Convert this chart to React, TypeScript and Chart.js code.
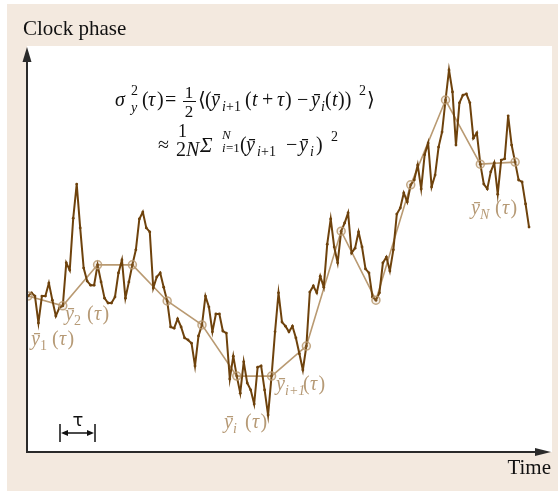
import { useEffect, useRef } from "react";
import { Chart, registerables } from "chart.js";

Chart.register(...registerables);

// Clock phase sampled at every time step (arbitrary units)
const phase = [
  38.4, 39.2, 38.4, 31.8, 38.4, 38.4, 41.6, 37.4, 33.5, 35.5,
  36.0, 46.6, 44.8, 57.6, 66.0, 55.2, 45.3, 42.1, 41.1, 41.1,
  46.1, 41.9, 37.9, 36.7, 36.7, 38.2, 44.1, 47.3, 37.9, 41.9,
  46.1, 49.8, 57.4, 59.1, 55.2, 54.2, 40.4, 43.1, 44.1, 40.6,
  37.2, 30.8, 30.5, 32.8, 30.8, 28.1, 27.6, 26.8, 21.2, 28.6,
  31.3, 38.4, 35.7, 29.6, 34.0, 34.0, 29.8, 29.3, 18.0, 23.6,
  18.7, 14.5, 22.2, 17.0, 15.3, 11.8, 20.9, 21.2, 15.3, 9.1,
  18.7, 29.6, 39.2, 32.0, 31.0, 29.6, 31.0, 28.1, 24.2, 20.2,
  26.1, 39.4, 40.9, 39.2, 43.3, 40.6, 51.2, 57.4, 50.5, 46.6,
  54.4, 56.4, 58.9, 49.0, 50.2, 54.2, 50.5, 45.1, 44.1, 38.2,
  37.4, 39.2, 46.6, 48.0, 44.6, 49.8, 58.6, 60.1, 63.8, 61.6,
  65.8, 67.0, 70.7, 64.8, 73.2, 76.1, 65.3, 68.2, 75.1, 78.8,
  86.7, 94.1, 88.7, 75.6, 86.0, 87.9, 88.2, 86.0, 77.3, 78.6,
  70.9, 66.0, 64.8, 69.0, 71.2, 63.5, 71.9, 72.2, 82.8, 75.6,
  71.4, 67.0, 66.5, 61.1, 55.4,
];

// Phase at the start of each averaging interval tau
const blockStart = [0, 10, 20, 30, 40, 50, 60, 70, 80, 90, 100, 110, 120, 130, 140];
const blockPhase = [38.4, 36.0, 46.1, 46.1, 37.2, 31.3, 18.7, 18.7, 26.1, 54.4, 37.4, 65.8, 86.7, 70.9, 71.4];

const BEIGE = "#f3e9df";
const DARK = "#6e420c";
const TAN = "#b99a72";
const LABEL = "#b69a76";
const AXIS = "#2a2a2a";
const SERIF = '"Liberation Serif", "Times New Roman", "DejaVu Serif", serif';

const font = (size: number, italic = false) =>
  `${italic ? "italic " : ""}${size}px ${SERIF}`;

// text, x, baseline y, size, italic
type Piece = [string, number, number, number, boolean?];

function drawPieces(ctx: CanvasRenderingContext2D, pieces: Piece[], color: string) {
  ctx.fillStyle = color;
  ctx.textAlign = "left";
  ctx.textBaseline = "alphabetic";
  for (const [t, x, y, s, it] of pieces) {
    ctx.font = font(s, !!it);
    ctx.fillText(t, x, y);
  }
}

function label(x: number, y: number, sub: string, subItalic: boolean, parenX: number): Piece[] {
  return [
    ["ȳ", x, y, 20, true],
    [sub, x + 9, y + 5, 14, subItalic],
    ["(", parenX, y, 20],
    ["τ", parenX + 7, y, 20, true],
    [")", parenX + 15.5, y, 20],
  ];
}

const formula: Piece[] = [
  // first line
  ["σ", 115, 106, 20, true],
  ["2", 131, 95, 14],
  ["y", 131, 112, 14, true],
  ["(", 142, 106, 20],
  ["τ", 148, 106, 20, true],
  [")", 157, 106, 20],
  ["=", 165, 106, 20],
  ["⟨", 198, 106, 20],
  ["(", 205, 106, 20],
  ["ȳ", 211, 106, 20, true],
  ["i", 222, 111, 14, true],
  ["+1", 226, 111, 14],
  ["(", 245, 106, 20],
  ["t", 252, 106, 20, true],
  ["+", 262, 106, 20],
  ["τ", 277, 106, 20, true],
  [")", 285, 106, 20],
  ["−", 297, 106, 20],
  ["ȳ", 311, 106, 20, true],
  ["i", 321, 111, 14, true],
  ["(", 325, 106, 20],
  ["t", 332, 106, 20, true],
  ["))", 338, 106, 20],
  ["2", 359, 95, 14],
  ["⟩", 367, 106, 20],
  // second line
  ["≈", 158, 151, 20],
  ["1", 178, 137, 18],
  ["2", 176, 156, 20],
  ["N", 186, 156, 20, true],
  ["Σ", 200, 152, 21, true],
  ["N", 222, 139, 13, true],
  ["i", 222, 152, 13, true],
  ["=1", 226, 152, 13],
  ["(", 240, 151, 20],
  ["ȳ", 246, 151, 20, true],
  ["i", 257, 156, 14, true],
  ["+1", 261, 156, 14],
  ["−", 286, 151, 20],
  ["ȳ", 299, 151, 20, true],
  ["i", 310, 156, 14, true],
  [")", 316, 151, 20],
  ["2", 331, 141, 14],
];

const labels: Piece[] = [
  ...label(31, 345, "1", false, 52),
  ...label(65, 320, "2", false, 87),
  ...label(224, 428, "i", true, 245),
  ...label(276, 390, "i+1", true, 303),
  ...label(471, 214, "N", true, 495),
];

function arrowHead(ctx: CanvasRenderingContext2D, tipX: number, tipY: number, dx: number, dy: number, len: number, half: number) {
  // dx, dy: unit direction toward the tip
  const bx = tipX - dx * len;
  const by = tipY - dy * len;
  ctx.beginPath();
  ctx.moveTo(tipX, tipY);
  ctx.lineTo(bx - dy * half, by + dx * half);
  ctx.lineTo(bx + dy * half, by - dx * half);
  ctx.closePath();
  ctx.fill();
}

const decor = {
  id: "decor",
  beforeDraw(chart: Chart) {
    const { ctx, chartArea: a } = chart;
    ctx.save();
    ctx.fillStyle = "#ffffff";
    ctx.fillRect(0, 0, chart.width, chart.height);
    ctx.fillStyle = BEIGE;
    ctx.fillRect(7, 4, chart.width - 7, chart.height - 4);
    ctx.fillStyle = "#ffffff";
    ctx.fillRect(a.left, a.top, a.right - a.left, a.bottom - a.top);
    ctx.restore();
  },
  afterDraw(chart: Chart) {
    const { ctx, chartArea: a } = chart;
    ctx.save();
    // axes with arrowheads
    ctx.strokeStyle = AXIS;
    ctx.fillStyle = AXIS;
    ctx.lineWidth = 2;
    ctx.beginPath();
    ctx.moveTo(a.left, a.bottom);
    ctx.lineTo(a.left, a.top + 10);
    ctx.moveTo(a.left - 1, a.bottom);
    ctx.lineTo(a.right - 12, a.bottom);
    ctx.stroke();
    arrowHead(ctx, a.left, a.top + 1, 0, -1, 15, 4.5);
    arrowHead(ctx, a.right - 1, a.bottom, 1, 0, 16, 4);

    // axis titles
    ctx.fillStyle = "#111";
    ctx.font = font(21);
    ctx.textAlign = "left";
    ctx.textBaseline = "alphabetic";
    ctx.fillText("Clock phase", 23, 35);
    ctx.textAlign = "right";
    ctx.fillText("Time", 551, 474);

    // tau interval marker
    ctx.strokeStyle = "#111";
    ctx.fillStyle = "#111";
    ctx.lineWidth = 1.5;
    ctx.beginPath();
    ctx.moveTo(60, 424);
    ctx.lineTo(60, 442);
    ctx.moveTo(95, 424);
    ctx.lineTo(95, 442);
    ctx.moveTo(64, 433);
    ctx.lineTo(91, 433);
    ctx.stroke();
    arrowHead(ctx, 61, 433, -1, 0, 7, 3);
    arrowHead(ctx, 94, 433, 1, 0, 7, 3);
    ctx.font = '18px "DejaVu Sans", sans-serif';
    ctx.textAlign = "center";
    ctx.fillText("τ", 78, 426);

    drawPieces(ctx, formula, "#111");
    // fraction 1/2
    ctx.font = font(17);
    ctx.textAlign = "center";
    ctx.fillText("1", 189, 98);
    ctx.fillText("2", 189, 117);
    ctx.fillRect(183, 101, 13, 1);

    drawPieces(ctx, labels, LABEL);
    ctx.restore();
  },
};

export default function App() {
  const ref = useRef<HTMLCanvasElement | null>(null);

  useEffect(() => {
    if (!ref.current) return;
    const series = phase.map((v, i) => ({ x: i, y: v }));
    const blocks = blockStart.map((t, k) => ({ x: t, y: blockPhase[k] }));
    const chart = new Chart(ref.current, {
      type: "line",
      data: {
        datasets: [
          {
            label: "Averages",
            data: blocks,
            borderColor: TAN,
            borderWidth: 1.6,
            pointRadius: 0,
            tension: 0,
            order: 3,
          },
          {
            label: "Phase",
            data: series,
            borderColor: DARK,
            borderWidth: 2,
            pointRadius: 1.4,
            pointBackgroundColor: DARK,
            pointBorderWidth: 0,
            tension: 0,
            order: 2,
          },
          {
            label: "Interval points",
            data: blocks,
            showLine: false,
            pointRadius: 4,
            pointBorderColor: "rgba(185,154,114,0.85)",
            pointBackgroundColor: "rgba(185,154,114,0.15)",
            pointBorderWidth: 1.5,
            order: 1,
          },
        ],
      },
      options: {
        animation: false,
        responsive: false,
        devicePixelRatio: 1,
        layout: { padding: { left: 27, top: 46, right: 6, bottom: 39 } },
        scales: {
          x: { type: "linear", min: -0.287, max: 150.6, display: false },
          y: { min: 0, max: 100, display: false },
        },
        plugins: {
          legend: { display: false },
          tooltip: { enabled: false },
        },
      },
      plugins: [decor],
    });
    return () => chart.destroy();
  }, []);

  return (
    <div style={{ position: "fixed", left: 0, top: 0, width: 558, height: 491 }}>
      <canvas ref={ref} width={558} height={491} style={{ display: "block" }} />
    </div>
  );
}
